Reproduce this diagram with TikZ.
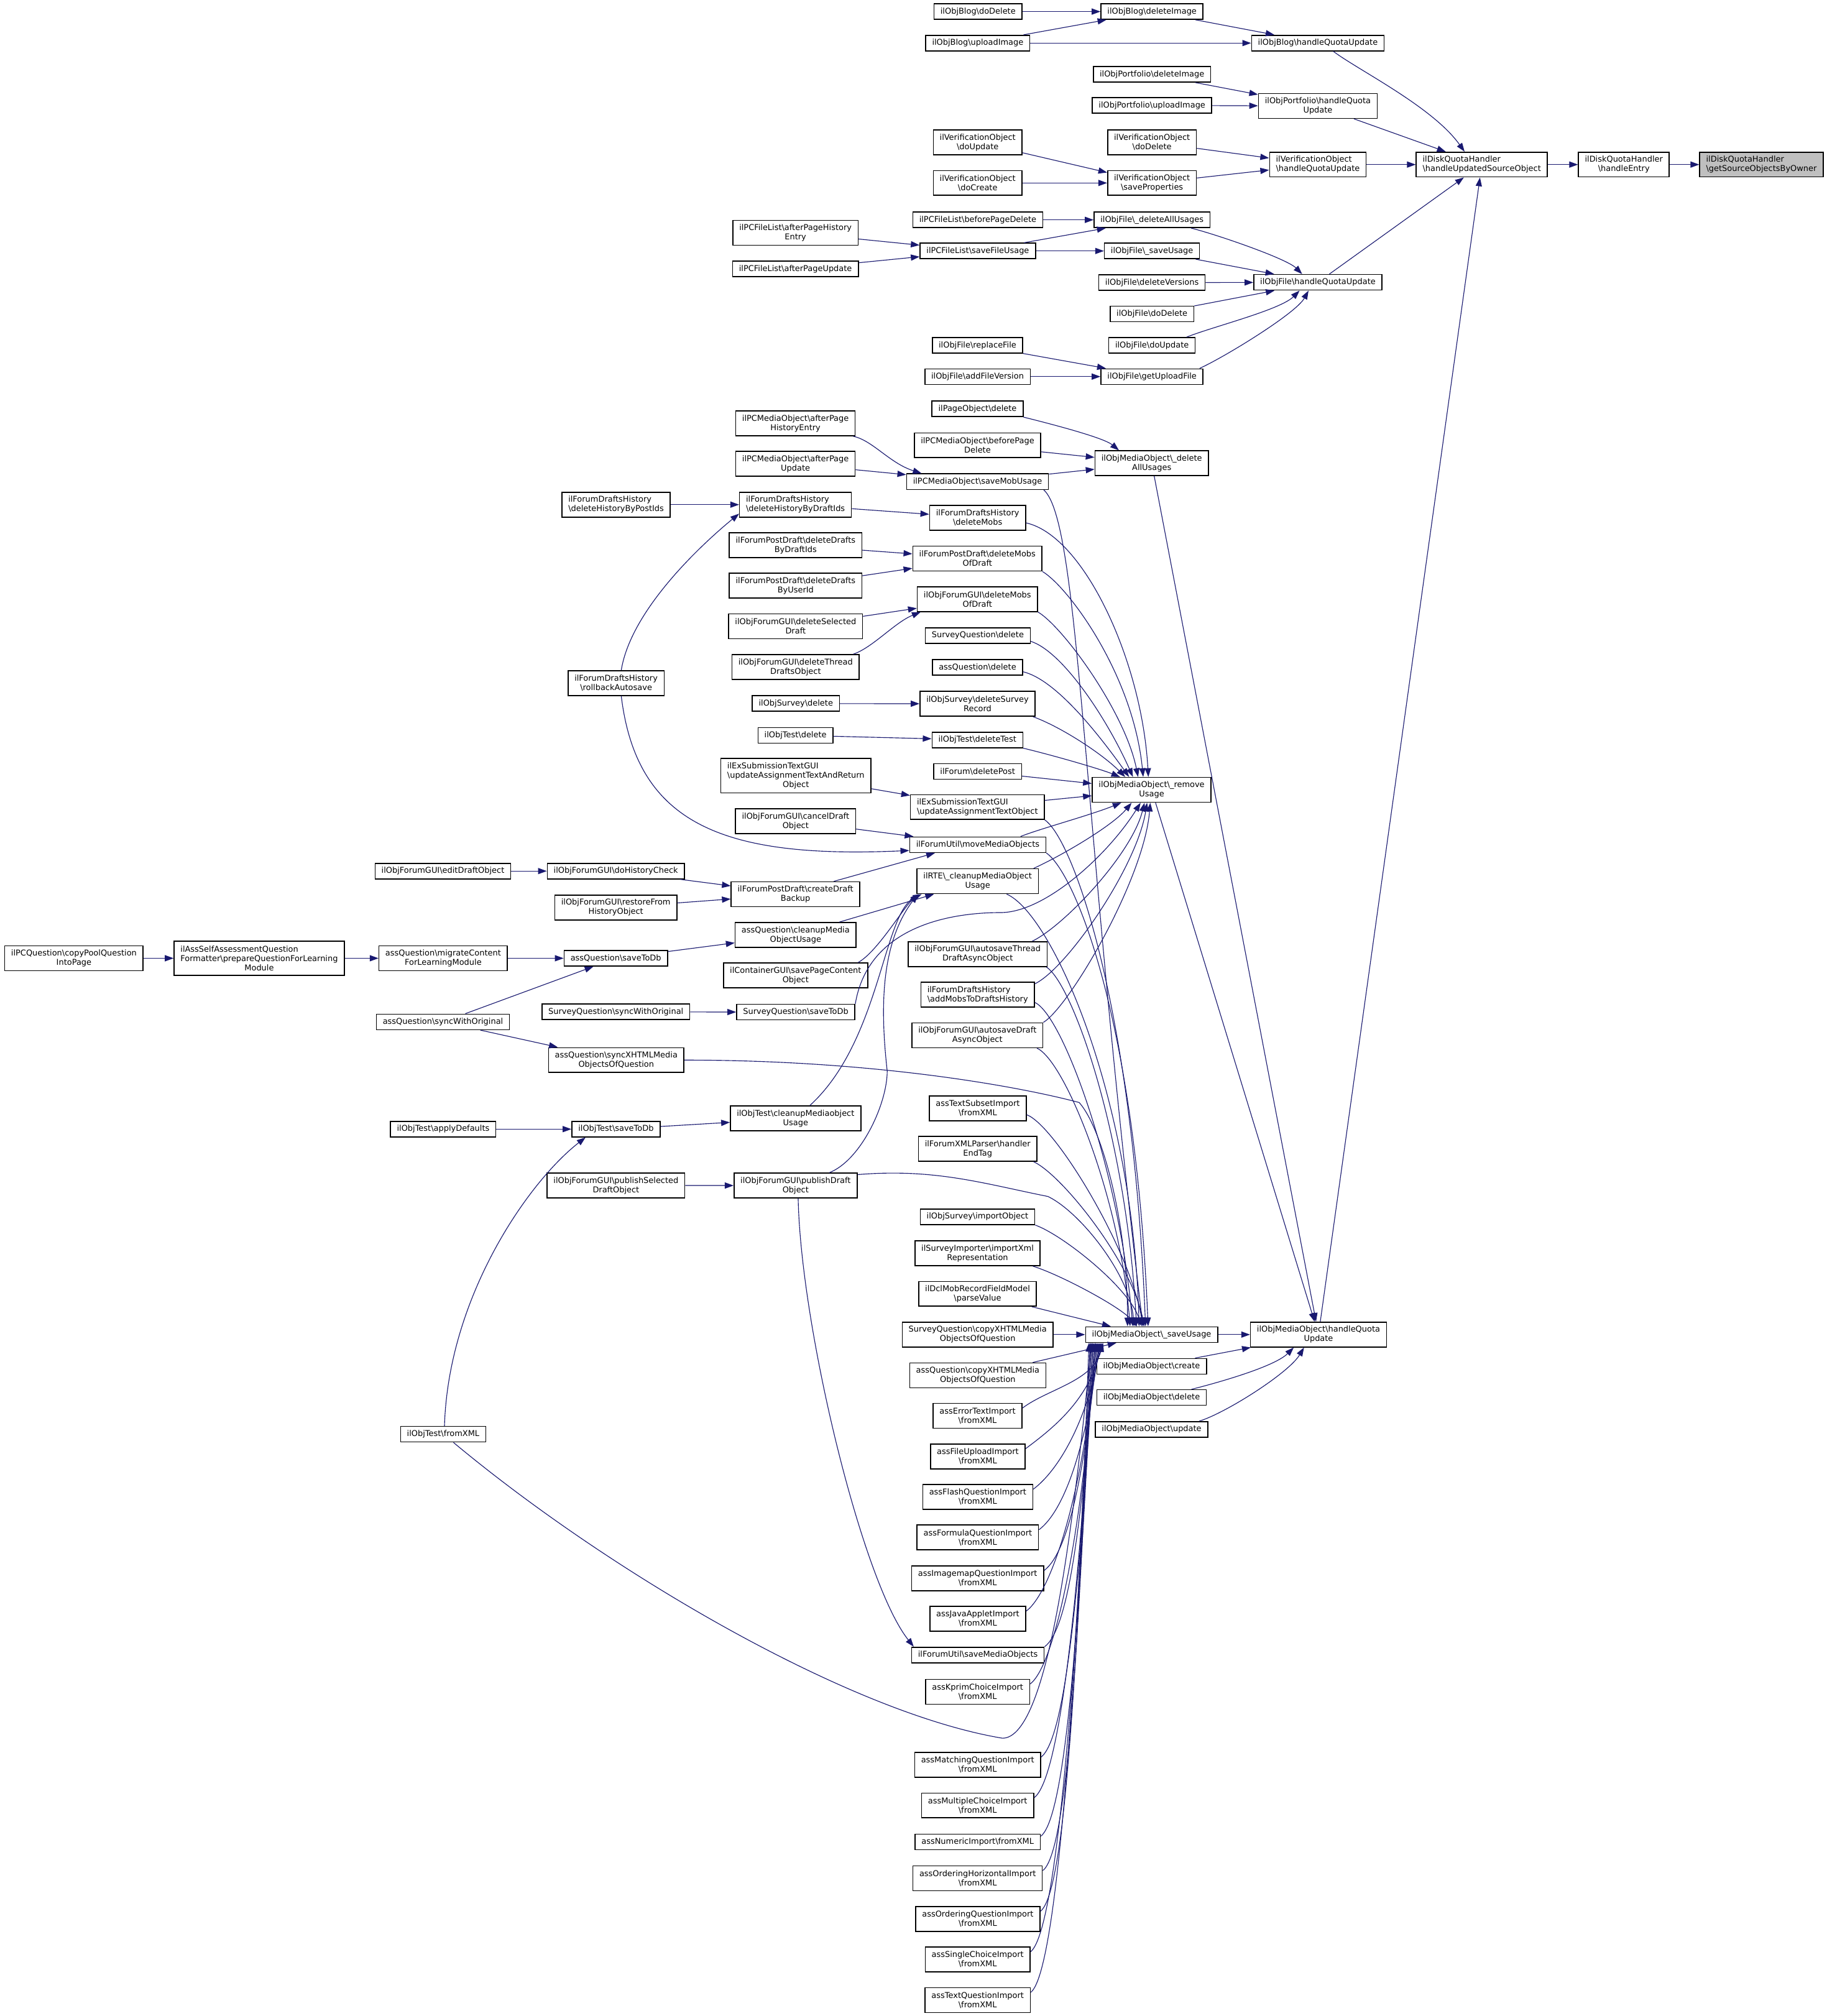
\documentclass[tikz,border=0pt]{standalone}
\usepackage{fontspec}
\usepackage{xcolor}
\usepackage{tikz}
\usetikzlibrary{arrows.meta,calc}
\newfontfamily\dvsans{DejaVu Sans}
\definecolor{edgeblue}{HTML}{191970}
\definecolor{rootgray}{HTML}{BFBFBF}
\newcommand{\bsl}{\textbackslash}
\newcommand{\lpair}[2]{\setbox0=\hbox{#2}\makebox[\wd0][l]{#1}\\#2}
\tikzset{
  fnbox/.style={draw=black, fill=white, line width=0.75pt, inner xsep=5pt, inner ysep=1pt,
    minimum height=12.1pt, align=center, font=\dvsans\fontsize{6.26pt}{7.25pt}\selectfont},
  fnbox2/.style={fnbox, minimum height=19.3pt},
  fnbox3/.style={fnbox, minimum height=26.6pt},
  rootbox/.style={fnbox2, fill=rootgray},
  callarrow/.style={draw=edgeblue, line width=0.55pt, -{Triangle[length=6.8pt,width=4.8pt]}},
}
\begin{document}
\begin{tikzpicture}[x=1pt,y=-1pt]
  \path[fill=white] (0,0) rectangle (1421,1568);
  \useasboundingbox (0,0) rectangle (1421,1568);
  \node[rootbox] (gsobo) at (1370,128) {\lpair{ilDiskQuotaHandler}{\bsl getSourceObjectsByOwner}};
  \node[fnbox2] (hentry) at (1263,128) {ilDiskQuotaHandler\\\bsl handleEntry};
  \node[fnbox2] (huso) at (1152.5,128) {\lpair{ilDiskQuotaHandler}{\bsl handleUpdatedSourceObject}};
  \node[fnbox] (blogHQU) at (1025,33.5) {ilObjBlog\bsl handleQuotaUpdate};
  \node[fnbox2] (portHQU) at (1025,82.4) {ilObjPortfolio\bsl handleQuota\\Update};
  \node[fnbox2] (verHQU) at (1025,128) {\lpair{ilVerificationObject}{\bsl handleQuotaUpdate}};
  \node[fnbox] (fileHQU) at (1025,219.6) {ilObjFile\bsl handleQuotaUpdate};
  \node[fnbox2] (moHQU) at (1025.5,1038) {ilObjMediaObject\bsl handleQuota\\Update};
  \node[fnbox] (blogDelImg) at (896,9) {ilObjBlog\bsl deleteImage};
  \node[fnbox] (portDelImg) at (896,57.8) {ilObjPortfolio\bsl deleteImage};
  \node[fnbox] (portUpImg) at (896,82) {ilObjPortfolio\bsl uploadImage};
  \node[fnbox2] (verDoDelete) at (896,110.7) {ilVerificationObject\\\bsl doDelete};
  \node[fnbox2] (verSaveProps) at (896,142.3) {ilVerificationObject\\\bsl saveProperties};
  \node[fnbox] (fileDelAll) at (896,171) {ilObjFile\bsl\_deleteAllUsages};
  \node[fnbox] (fileSaveUsage) at (896,195.2) {ilObjFile\bsl\_saveUsage};
  \node[fnbox] (fileDelVers) at (896,219.8) {ilObjFile\bsl deleteVersions};
  \node[fnbox] (fileDoDelete) at (896,244.2) {ilObjFile\bsl doDelete};
  \node[fnbox] (fileDoUpdate) at (896,268.6) {ilObjFile\bsl doUpdate};
  \node[fnbox] (fileGetUpload) at (896,292.9) {ilObjFile\bsl getUploadFile};
  \node[fnbox2] (moDelAll) at (895.8,360.3) {ilObjMediaObject\bsl\_delete\\AllUsages};
  \node[fnbox2] (moRemove) at (895.7,614.3) {ilObjMediaObject\bsl\_remove\\Usage};
  \node[fnbox] (moSave) at (895.7,1038) {ilObjMediaObject\bsl\_saveUsage};
  \node[fnbox] (moCreate) at (895.7,1062.7) {ilObjMediaObject\bsl create};
  \node[fnbox] (moDelete) at (895.7,1087) {ilObjMediaObject\bsl delete};
  \node[fnbox] (moUpdate) at (895.7,1111.7) {ilObjMediaObject\bsl update};
  \node[fnbox] (blogDoDelete) at (760.7,9) {ilObjBlog\bsl doDelete};
  \node[fnbox] (blogUpImg) at (760.5,33.5) {ilObjBlog\bsl uploadImage};
  \node[fnbox2] (verDoUpdate) at (760.4,110.7) {ilVerificationObject\\\bsl doUpdate};
  \node[fnbox2] (verDoCreate) at (760.4,142.3) {ilVerificationObject\\\bsl doCreate};
  \node[fnbox] (pcflBefore) at (760.5,171) {ilPCFileList\bsl beforePageDelete};
  \node[fnbox] (pcflSave) at (760.5,195.2) {ilPCFileList\bsl saveFileUsage};
  \node[fnbox] (fileReplace) at (760.3,268.6) {ilObjFile\bsl replaceFile};
  \node[fnbox] (fileAddVers) at (760.3,292.9) {ilObjFile\bsl addFileVersion};
  \node[fnbox] (pageDel) at (760.3,318) {ilPageObject\bsl delete};
  \node[fnbox2] (pcmoBefore) at (760.3,346.3) {ilPCMediaObject\bsl beforePage\\Delete};
  \node[fnbox] (pcmoSave) at (760.3,374.6) {ilPCMediaObject\bsl saveMobUsage};
  \node[fnbox2] (fdhDelMobs) at (760.4,402.7) {ilForumDraftsHistory\\\bsl deleteMobs};
  \node[fnbox2] (fpdDelMobs) at (760.2,434.5) {ilForumPostDraft\bsl deleteMobs\\OfDraft};
  \node[fnbox2] (fgDelMobs) at (760.2,466) {ilObjForumGUI\bsl deleteMobs\\OfDraft};
  \node[fnbox] (sqDelete) at (760.5,494.3) {SurveyQuestion\bsl delete};
  \node[fnbox] (aqDelete) at (760.3,519) {assQuestion\bsl delete};
  \node[fnbox2] (osDelRec) at (760.3,547.4) {ilObjSurvey\bsl deleteSurvey\\Record};
  \node[fnbox] (otDelTest) at (760.2,575.5) {ilObjTest\bsl deleteTest};
  \node[fnbox] (forumDelPost) at (760.4,600) {ilForum\bsl deletePost};
  \node[fnbox2] (exsUpdate) at (760.2,627.7) {\lpair{ilExSubmissionTextGUI}{\bsl updateAssignmentTextObject}};
  \node[fnbox] (fuMove) at (760.5,657) {ilForumUtil\bsl moveMediaObjects};
  \node[fnbox2] (rteCleanup) at (760.4,685.4) {ilRTE\bsl\_cleanupMediaObject\\Usage};
  \node[fnbox2] (fgAutoThread) at (760.4,742.1) {ilObjForumGUI\bsl autosaveThread\\DraftAsyncObject};
  \node[fnbox2] (fdhAddMobs) at (760.4,773.7) {\lpair{ilForumDraftsHistory}{\bsl addMobsToDraftsHistory}};
  \node[fnbox2] (fgAutoDraft) at (760.2,805.2) {ilObjForumGUI\bsl autosaveDraft\\AsyncObject};
  \node[fnbox2] (atsImport) at (760.5,862) {assTextSubsetImport\\\bsl fromXML};
  \node[fnbox2] (fxpEnd) at (760.4,893.5) {ilForumXMLParser\bsl handler\\EndTag};
  \node[fnbox] (osImport) at (760.3,946.4) {ilObjSurvey\bsl importObject};
  \node[fnbox2] (siImport) at (760.3,974.8) {ilSurveyImporter\bsl importXml\\Representation};
  \node[fnbox2] (dclParse) at (760.3,1006.3) {ilDclMobRecordFieldModel\\\bsl parseValue};
  \node[fnbox2] (sqCopy) at (760.4,1038) {SurveyQuestion\bsl copyXHTMLMedia\\ObjectsOfQuestion};
  \node[fnbox2] (aqCopy) at (760.5,1069.7) {assQuestion\bsl copyXHTMLMedia\\ObjectsOfQuestion};
  \node[fnbox2] (aetImport) at (760.3,1101.2) {assErrorTextImport\\\bsl fromXML};
  \node[fnbox2] (afuImport) at (760.5,1132.8) {assFileUploadImport\\\bsl fromXML};
  \node[fnbox2] (afqImport) at (760.5,1164.3) {assFlashQuestionImport\\\bsl fromXML};
  \node[fnbox2] (aformImport) at (760.5,1195.8) {assFormulaQuestionImport\\\bsl fromXML};
  \node[fnbox2] (aimgImport) at (760.4,1227.5) {assImagemapQuestionImport\\\bsl fromXML};
  \node[fnbox2] (ajaImport) at (760.5,1259.1) {assJavaAppletImport\\\bsl fromXML};
  \node[fnbox] (fuSaveMedia) at (760.6,1287.2) {ilForumUtil\bsl saveMediaObjects};
  \node[fnbox2] (akpImport) at (760.4,1315.8) {assKprimChoiceImport\\\bsl fromXML};
  \node[fnbox2] (amatImport) at (760.4,1372.6) {assMatchingQuestionImport\\\bsl fromXML};
  \node[fnbox2] (amcImport) at (760.4,1404.2) {assMultipleChoiceImport\\\bsl fromXML};
  \node[fnbox] (anumImport) at (760.4,1432.6) {assNumericImport\bsl fromXML};
  \node[fnbox2] (aohImport) at (760.4,1460.9) {assOrderingHorizontalImport\\\bsl fromXML};
  \node[fnbox2] (aoqImport) at (760.5,1492.6) {assOrderingQuestionImport\\\bsl fromXML};
  \node[fnbox2] (ascImport) at (760.4,1524) {assSingleChoiceImport\\\bsl fromXML};
  \node[fnbox2] (atqImport) at (760.4,1555.6) {assTextQuestionImport\\\bsl fromXML};
  \node[fnbox2] (pcflHist) at (618.7,181) {ilPCFileList\bsl afterPageHistory\\Entry};
  \node[fnbox] (pcflUpd) at (618.7,209.2) {ilPCFileList\bsl afterPageUpdate};
  \node[fnbox2] (pcmoHist) at (618.7,329.3) {ilPCMediaObject\bsl afterPage\\HistoryEntry};
  \node[fnbox2] (pcmoUpd) at (618.7,360.8) {ilPCMediaObject\bsl afterPage\\Update};
  \node[fnbox2] (fdhDelByDraft) at (618.7,392.5) {\lpair{ilForumDraftsHistory}{\bsl deleteHistoryByDraftIds}};
  \node[fnbox2] (fpdDelByDraft) at (618.8,424.1) {ilForumPostDraft\bsl deleteDrafts\\ByDraftIds};
  \node[fnbox2] (fpdDelByUser) at (618.8,455.5) {ilForumPostDraft\bsl deleteDrafts\\ByUserId};
  \node[fnbox2] (fgDelSel) at (618.8,487.2) {ilObjForumGUI\bsl deleteSelected\\Draft};
  \node[fnbox2] (fgDelThread) at (618.8,518.8) {ilObjForumGUI\bsl deleteThread\\DraftsObject};
  \node[fnbox] (osDelete) at (619,547.2) {ilObjSurvey\bsl delete};
  \node[fnbox] (otDelete) at (618.7,571.9) {ilObjTest\bsl delete};
  \node[fnbox3] (exsAndReturn) at (619,603.3) {\lpair{ilExSubmissionTextGUI}{\bsl updateAssignmentTextAndReturn}\\Object};
  \node[fnbox2] (fgCancel) at (618.8,638.8) {ilObjForumGUI\bsl cancelDraft\\Object};
  \node[fnbox2] (fpdCreate) at (618.7,695.5) {ilForumPostDraft\bsl createDraft\\Backup};
  \node[fnbox2] (aqCleanup) at (618.8,727.2) {assQuestion\bsl cleanupMedia\\ObjectUsage};
  \node[fnbox2] (cgSave) at (618.8,758.7) {ilContainerGUI\bsl savePageContent\\Object};
  \node[fnbox] (sqSaveDb) at (618.9,787.2) {SurveyQuestion\bsl saveToDb};
  \node[fnbox2] (otCleanup) at (618.8,869.9) {ilObjTest\bsl cleanupMediaobject\\Usage};
  \node[fnbox2] (fgPublish) at (618.8,922.1) {ilObjForumGUI\bsl publishDraft\\Object};
  \node[fnbox2] (fdhDelByPost) at (479.2,392.5) {\lpair{ilForumDraftsHistory}{\bsl deleteHistoryByPostIds}};
  \node[fnbox2] (fdhRollback) at (479.2,531.3) {ilForumDraftsHistory\\\bsl rollbackAutosave};
  \node[fnbox] (fgHistCheck) at (479,677.5) {ilObjForumGUI\bsl doHistoryCheck};
  \node[fnbox2] (fgRestore) at (479,705.8) {ilObjForumGUI\bsl restoreFrom\\HistoryObject};
  \node[fnbox] (aqSaveDb) at (479,745.3) {assQuestion\bsl saveToDb};
  \node[fnbox] (sqSync) at (479,787) {SurveyQuestion\bsl syncWithOriginal};
  \node[fnbox2] (aqSyncX) at (479.3,824.5) {assQuestion\bsl syncXHTMLMedia\\ObjectsOfQuestion};
  \node[fnbox] (otSaveDb) at (479.1,878.2) {ilObjTest\bsl saveToDb};
  \node[fnbox2] (fgPublishSel) at (479.1,922) {ilObjForumGUI\bsl publishSelected\\DraftObject};
  \node[fnbox] (fgEditDraft) at (344.5,677.5) {ilObjForumGUI\bsl editDraftObject};
  \node[fnbox2] (aqMigrate) at (344.7,745.3) {assQuestion\bsl migrateContent\\ForLearningModule};
  \node[fnbox] (aqSync) at (344.5,794.8) {assQuestion\bsl syncWithOriginal};
  \node[fnbox] (otApply) at (344.7,878.2) {ilObjTest\bsl applyDefaults};
  \node[fnbox] (otFromXML) at (344.7,1115.5) {ilObjTest\bsl fromXML};
  \node[fnbox3] (assFormatter) at (201.6,745.3) {\lpair{ilAssSelfAssessmentQuestion}{Formatter\bsl prepareQuestionForLearning}\\Module};
  \node[fnbox2] (pcqCopy) at (57.5,745.3) {ilPCQuestion\bsl copyPoolQuestion\\IntoPage};
  \draw[callarrow] (hentry) -- (gsobo);
  \draw[callarrow] (huso) -- (hentry);
  \draw[callarrow] ($(blogHQU.south)+(12,0)$) .. controls +(20,15) and +(-25,-35) .. ($(huso.north west)+(38,0)$);
  \draw[callarrow] (portHQU) -- (huso);
  \draw[callarrow] (verHQU) -- (huso);
  \draw[callarrow] (fileHQU) -- (huso);
  \draw[callarrow] (moHQU) -- (huso);
  \draw[callarrow] (blogDelImg) -- (blogHQU);
  \draw[callarrow] (blogUpImg) -- (blogHQU);
  \draw[callarrow] (blogDoDelete) -- (blogDelImg);
  \draw[callarrow] (blogUpImg) -- (blogDelImg);
  \draw[callarrow] (portDelImg) -- (portHQU);
  \draw[callarrow] (portUpImg) -- (portHQU);
  \draw[callarrow] (verDoDelete) -- (verHQU);
  \draw[callarrow] (verSaveProps) -- (verHQU);
  \draw[callarrow] (verDoUpdate) -- (verSaveProps);
  \draw[callarrow] (verDoCreate) -- (verSaveProps);
  \draw[callarrow] ($(fileDelAll.south east)+(-15,0)$) .. controls +(20,5) and +(-12,-12) .. ($(fileHQU.north west)+(38,0)$);
  \draw[callarrow] (fileSaveUsage) -- (fileHQU);
  \draw[callarrow] (fileDelVers) -- (fileHQU);
  \draw[callarrow] (fileDoDelete) -- (fileHQU);
  \draw[callarrow] ($(fileDoUpdate.north east)+(-7,0)$) .. controls +(20,-8) and +(-15,15) .. ($(fileHQU.south west)+(36,0)$);
  \draw[callarrow] ($(fileGetUpload.north east)+(-3,0)$) .. controls +(18,-8) and +(-10,18) .. ($(fileHQU.south west)+(43,0)$);
  \draw[callarrow] (pcflBefore) -- (fileDelAll);
  \draw[callarrow] (pcflSave) -- (fileDelAll);
  \draw[callarrow] (pcflSave) -- (fileSaveUsage);
  \draw[callarrow] (pcflHist) -- (pcflSave);
  \draw[callarrow] (pcflUpd) -- (pcflSave);
  \draw[callarrow] (fileReplace) -- (fileGetUpload);
  \draw[callarrow] (fileAddVers) -- (fileGetUpload);
  \draw[callarrow] (pageDel.south east) .. controls +(20,5) and +(-12,-10) .. ($(moDelAll.north west)+(19,0)$);
  \draw[callarrow] (pcmoBefore) -- (moDelAll);
  \draw[callarrow] (pcmoSave) -- (moDelAll);
  \draw[callarrow] (moDelAll) -- (moHQU);
  \draw[callarrow] ($(pcmoHist.south east)+(-2,0)$) .. controls +(15,3) and +(-25,-8) .. ($(pcmoSave.north west)+(12,0)$);
  \draw[callarrow] (pcmoUpd) -- (pcmoSave);
  \draw[callarrow] ($(pcmoSave.south east)+(-4,0)$) .. controls +(28,25) and +(-48,-400) .. ($(moSave.north west)+(45,0)$);
  \draw[callarrow] (fdhDelByDraft) -- (fdhDelMobs);
  \draw[callarrow] (fdhDelByPost) -- (fdhDelByDraft);
  \draw[callarrow] ($(fdhRollback.north)+(4,0)$) .. controls +(8,-50) and +(-22,18) .. ($(fdhDelByDraft.south west)+(0,-3)$);
  \draw[callarrow] ($(fdhRollback.south)+(4,0)$) .. controls +(12,99) and +(-146,6.5) .. ($(fuMove.west)+(0,4.5)$);
  \draw[callarrow] ($(fdhDelMobs.east)+(0,4)$) .. controls +(45,10) and +(-5,-90) .. ($(moRemove.north west)+(44,0)$);
  \draw[callarrow] (fpdDelMobs.south east) .. controls +(20,12) and +(-8,-80) .. ($(moRemove.north west)+(40,0)$);
  \draw[callarrow] (fgDelMobs.south east) .. controls +(20,12) and +(-10,-50) .. ($(moRemove.north west)+(36,0)$);
  \draw[callarrow] ($(sqDelete.east)+(0,4.5)$) .. controls +(25,8) and +(-20,-45) .. ($(moRemove.north west)+(32,0)$);
  \draw[callarrow] ($(aqDelete.east)+(0,3.5)$) .. controls +(25,6) and +(-25,-35) .. ($(moRemove.north west)+(29,0)$);
  \draw[callarrow] ($(osDelRec.south east)+(-2,0)$) .. controls +(22,8) and +(-18,-18) .. ($(moRemove.north west)+(26,0)$);
  \draw[callarrow] (otDelTest.south east) .. controls +(25,6) and +(-15,-6) .. ($(moRemove.north west)+(22,0)$);
  \draw[callarrow] (forumDelPost) -- (moRemove);
  \draw[callarrow] (exsUpdate) -- (moRemove);
  \draw[callarrow] (exsAndReturn) -- (exsUpdate);
  \draw[callarrow] (fpdDelByDraft) -- (fpdDelMobs);
  \draw[callarrow] (fpdDelByUser) -- (fpdDelMobs);
  \draw[callarrow] (fgDelSel) -- (fgDelMobs);
  \draw[callarrow] ($(fgDelThread.north east)+(-5,0)$) .. controls +(15,-5) and +(-20,8) .. ($(fgDelMobs.south west)+(3,0)$);
  \draw[callarrow] (osDelete) -- (osDelRec);
  \draw[callarrow] (otDelete) -- (otDelTest);
  \draw[callarrow] ($(fuMove.north east)+(-20,0)$) .. controls +(15,-6) and +(-25,10) .. ($(moRemove.south west)+(23,0)$);
  \draw[callarrow] ($(rteCleanup.north east)+(-4,0)$) .. controls +(22,-10) and +(-15,18) .. ($(moRemove.south west)+(31,0)$);
  \draw[callarrow] (sqSaveDb.north east) .. controls +(10,-60) and +(-40,0) .. ++(113,-71) .. controls +(35,0) and +(-25,40) .. ($(moRemove.south west)+(38,0)$);
  \draw[callarrow] ($(fgAutoThread.north east)+(-12,0)$) .. controls +(25,-12) and +(-10,40) .. ($(moRemove.south west)+(41,0)$);
  \draw[callarrow] ($(fdhAddMobs.north east)+(0,1.5)$) .. controls +(25,-12) and +(-8,50) .. ($(moRemove.south west)+(43,0)$);
  \draw[callarrow] (fgAutoDraft.north east) .. controls +(20,-12) and +(-5,60) .. ($(moRemove.south west)+(45.5,0)$);
  \draw[callarrow] (exsUpdate.south east) .. controls +(22,15) and +(-10,-250) .. ($(moSave.north west)+(47,0)$);
  \draw[callarrow] (fuMove.south east) .. controls +(22,15) and +(-10,-240) .. ($(moSave.north west)+(49,0)$);
  \draw[callarrow] ($(rteCleanup.south east)+(-25,0)$) .. controls +(35,15) and +(-5,-180) .. ($(moSave.north west)+(42,0)$);
  \draw[callarrow] ($(fgAutoThread.south east)+(-1,0)$) .. controls +(20,12) and +(-8,-150) .. ($(moSave.north west)+(40,0)$);
  \draw[callarrow] ($(fdhAddMobs.east)+(0,6)$) .. controls +(22,10) and +(-10,-120) .. ($(moSave.north west)+(37,0)$);
  \draw[callarrow] ($(fgAutoDraft.south east)+(-5,0)$) .. controls +(22,10) and +(-8,-100) .. ($(moSave.north west)+(35,0)$);
  \draw[callarrow] ($(atsImport.east)+(0,5)$) .. controls +(22,8) and +(-10,-60) .. ($(moSave.north west)+(45,0)$);
  \draw[callarrow] ($(fxpEnd.south east)+(-3,0)$) .. controls +(22,10) and +(-10,-50) .. ($(moSave.north west)+(46,0)$);
  \draw[callarrow] (osImport.south east) .. controls +(22,8) and +(-10,-30) .. ($(moSave.north west)+(44,0)$);
  \draw[callarrow] ($(siImport.south east)+(-6,0)$) .. controls +(20,6) and +(-12,-15) .. ($(moSave.north west)+(40,0)$);
  \draw[callarrow] ($(dclParse.south east)+(-4,0)$) -- ($(moSave.north west)+(20,0)$);
  \draw[callarrow] (sqCopy) -- (moSave);
  \draw[callarrow] (aqCopy) -- (moSave);
  \draw[callarrow] (aqSyncX.east) .. controls +(150,0) and +(-45,-12) .. ++(307,33) .. controls +(18,20) and +(0,-80) .. ($(moSave.north west)+(33,0)$);
  \draw[callarrow] ($(fgPublish.north east)+(0,1.5)$) .. controls +(60,-5) and +(-50,-10) .. ++(148,17) .. controls +(25,12) and +(-3,-40) .. ($(moSave.north west)+(38,0)$);
  \draw[callarrow] ($(fgPublish.north east)+(-22,0)$) .. controls +(25,-10) and +(0,25) .. ++(45,-79) .. controls +(-5,-45) and +(-30,40) .. ($(rteCleanup.south west)+(1,0)$);
  \draw[callarrow] ($(fgPublish.south)+(2,0)$) .. controls +(2,100) and +(-40,-50) .. ($(fuSaveMedia.north west)+(2,0)$);
  \draw[callarrow] (fgPublishSel) -- (fgPublish);
  \draw[callarrow] ($(otCleanup.north)+(11,0)$) .. controls +(55,-50) and +(-30,15) .. ($(rteCleanup.south west)+(4,0)$);
  \draw[callarrow] ($(cgSave.north east)+(-8,0)$) .. controls +(15,-8) and +(-12,10) .. ($(rteCleanup.south west)+(2,0)$);
  \draw[callarrow] (aqCleanup) -- (rteCleanup);
  \draw[callarrow] (fgCancel) -- (fuMove);
  \draw[callarrow] ($(fpdCreate.north east)+(-20.5,0)$) -- ($(fuMove.south west)+(20,0)$);
  \draw[callarrow] (fgHistCheck) -- (fpdCreate);
  \draw[callarrow] (fgRestore) -- (fpdCreate);
  \draw[callarrow] (fgEditDraft) -- (fgHistCheck);
  \draw[callarrow] (pcqCopy) -- (assFormatter);
  \draw[callarrow] (assFormatter) -- (aqMigrate);
  \draw[callarrow] (aqMigrate) -- (aqSaveDb);
  \draw[callarrow] (aqSaveDb) -- (aqCleanup);
  \draw[callarrow] (aqSync) -- (aqSaveDb);
  \draw[callarrow] (aqSync) -- (aqSyncX);
  \draw[callarrow] (sqSync) -- (sqSaveDb);
  \draw[callarrow] (otApply) -- (otSaveDb);
  \draw[callarrow] (otSaveDb) -- (otCleanup);
  \draw[callarrow] ($(otFromXML.north)+(1,0)$) .. controls +(3,-100) and +(-45,35) .. ($(otSaveDb.south west)+(11,0)$);
  \draw[callarrow] ($(otFromXML.south)+(8,0)$) .. controls +(120,100) and +(-120,-20) .. ++(427,230) .. controls +(35,0) and +(-15,150) .. ($(moSave.south west)+(5,0)$);
  \draw[callarrow] ($(aetImport.north east)+(0,4)$) .. controls +(20,-15) and +(-8,30) .. ($(moSave.south west)+(14,0)$);
  \draw[callarrow] ($(afuImport.north east)+(0,4)$) .. controls +(20,-15) and +(-10,45) .. ($(moSave.south west)+(13,0)$);
  \draw[callarrow] ($(afqImport.north east)+(0,4)$) .. controls +(20,-15) and +(-10,60) .. ($(moSave.south west)+(12,0)$);
  \draw[callarrow] ($(aformImport.north east)+(0,4)$) .. controls +(20,-15) and +(-10,80) .. ($(moSave.south west)+(11,0)$);
  \draw[callarrow] ($(aimgImport.north east)+(0,4)$) .. controls +(20,-15) and +(-10,95) .. ($(moSave.south west)+(10,0)$);
  \draw[callarrow] ($(ajaImport.north east)+(0,4)$) .. controls +(20,-15) and +(-10,115) .. ($(moSave.south west)+(9,0)$);
  \draw[callarrow] (fuSaveMedia.north east) .. controls +(20,-15) and +(-10,130) .. ($(moSave.south west)+(8,0)$);
  \draw[callarrow] ($(akpImport.north east)+(0,4)$) .. controls +(20,-15) and +(-10,145) .. ($(moSave.south west)+(8,0)$);
  \draw[callarrow] ($(amatImport.north east)+(0,4)$) .. controls +(20,-15) and +(-10,175) .. ($(moSave.south west)+(7,0)$);
  \draw[callarrow] ($(amcImport.north east)+(0,4)$) .. controls +(20,-15) and +(-10,195) .. ($(moSave.south west)+(6,0)$);
  \draw[callarrow] ($(anumImport.north east)+(0,2)$) .. controls +(20,-15) and +(-10,210) .. ($(moSave.south west)+(6,0)$);
  \draw[callarrow] ($(aohImport.north east)+(0,4)$) .. controls +(20,-15) and +(-10,225) .. ($(moSave.south west)+(5,0)$);
  \draw[callarrow] ($(aoqImport.north east)+(0,4)$) .. controls +(20,-15) and +(-10,245) .. ($(moSave.south west)+(4,0)$);
  \draw[callarrow] ($(ascImport.north east)+(0,4)$) .. controls +(20,-15) and +(-10,260) .. ($(moSave.south west)+(4,0)$);
  \draw[callarrow] ($(atqImport.north east)+(0,4)$) .. controls +(20,-15) and +(-10,280) .. ($(moSave.south west)+(3,0)$);
  \draw[callarrow] (moSave) -- (moHQU);
  \draw[callarrow] (moRemove) -- (moHQU);
  \draw[callarrow] (moCreate) -- (moHQU);
  \draw[callarrow] ($(moDelete.north east)+(-12,0)$) .. controls +(20,-5) and +(-15,15) .. ($(moHQU.south west)+(34,0)$);
  \draw[callarrow] ($(moUpdate.north east)+(-7,0)$) .. controls +(20,-6) and +(-12,20) .. ($(moHQU.south west)+(42,0)$);
\end{tikzpicture}
\end{document}
